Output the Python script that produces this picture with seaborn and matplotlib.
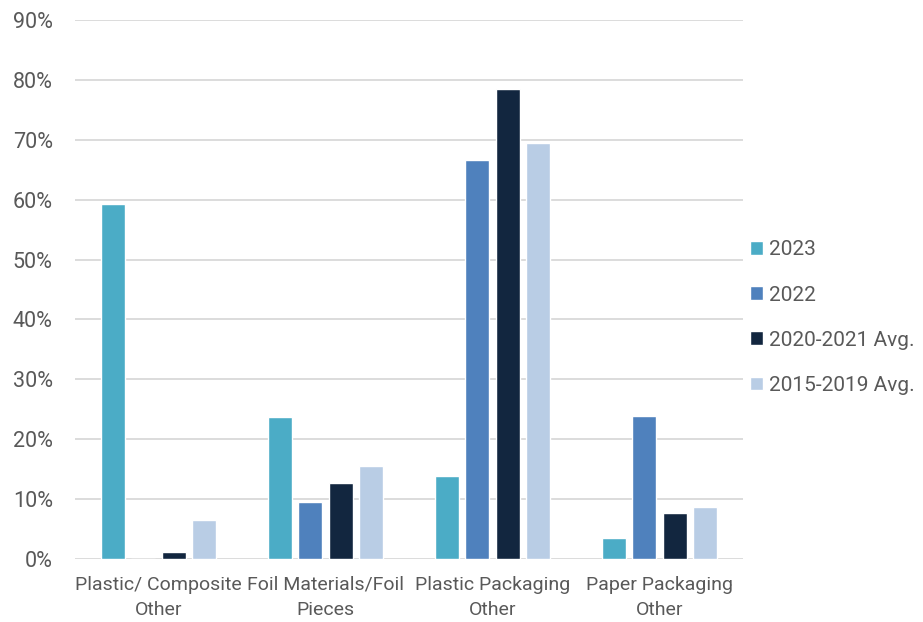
import matplotlib
matplotlib.use("Agg")
import matplotlib.pyplot as plt
import seaborn as sns
import pandas as pd
from matplotlib.ticker import FuncFormatter

categories = ["Plastic/ Composite\nOther", "Foil Materials/Foil\nPieces",
              "Plastic Packaging\nOther", "Paper Packaging\nOther"]
series = ["2023", "2022", "2020-2021 Avg.", "2015-2019 Avg."]
v2023 = [59.2, 23.7, 13.8, 3.5]
v2022 = [0.0, 9.5, 66.6, 23.9]
v2020_21 = [1.2, 12.7, 78.4, 7.6]
v2015_19 = [6.5, 15.5, 69.4, 8.7]
colors = ["#4BACC6", "#4F81BD", "#12263F", "#B9CDE5"]

rows = []
for s, vals in zip(series, [v2023, v2022, v2020_21, v2015_19]):
    for c, v in zip(categories, vals):
        rows.append({"category": c, "series": s, "value": v})
df = pd.DataFrame(rows)

sns.set_theme(style="white")
plt.rcParams["font.family"] = ["Roboto", "DejaVu Sans"]
text_color = "#595959"

fig = plt.figure(figsize=(9.23, 6.22), dpi=100)
ax = fig.add_axes([75/923, 1-559/622, (743-75)/923, (559-20)/622])

sns.barplot(data=df, x="category", y="value", hue="series", order=categories,
            hue_order=series, palette=colors, width=0.72, gap=0.2,
            saturation=1, ax=ax, errorbar=None)

ax.set_ylim(0, 90)
ax.set_yticks(range(0, 91, 10))
ax.yaxis.set_major_formatter(FuncFormatter(lambda v, p: f"{v:.0f}%"))
ax.set_xlim(-0.5, 3.5)
ax.grid(axis="y", color="#D9D9D9", linewidth=1.3)
ax.set_axisbelow(True)
for sp in ax.spines.values():
    sp.set_visible(False)
ax.set_xlabel("")
ax.set_ylabel("")
ax.tick_params(axis="y", length=0, pad=16, labelsize=15.5, labelcolor=text_color)
ax.tick_params(axis="x", length=0, pad=12, labelsize=14, labelcolor=text_color)
for t in ax.get_xticklabels():
    t.set_linespacing(1.55)

handles, labels = ax.get_legend_handles_labels()
ax.legend(handles, labels, loc="center left", bbox_to_anchor=(1.0105, 0.448),
          frameon=False, fontsize=15, labelcolor=text_color,
          handlelength=0.62, handleheight=0.62, handletextpad=0.28,
          labelspacing=1.25, borderaxespad=0, borderpad=0)

fig.savefig("out.png", dpi=100)
